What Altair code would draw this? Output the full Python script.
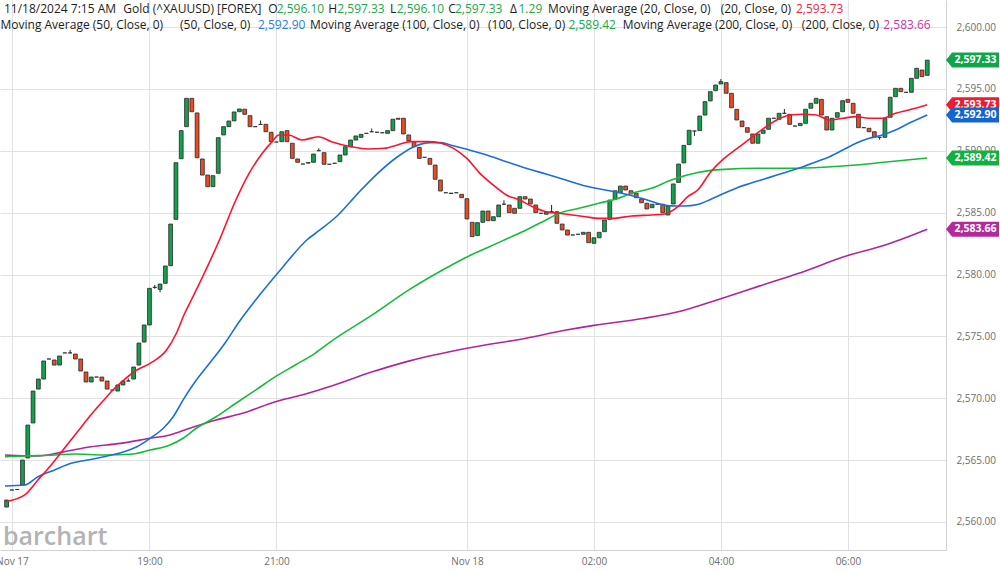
import altair as alt
import pandas as pd

# ---------------- data ----------------
first_bar = -1  # bar index of the first (partly visible) candle; bar 0 = "Nov 17"
opens = [
    2561.20, 2562.58, 2562.62, 2562.98, 2565.17, 2568.00, 2570.74, 2571.55, 2573.17, 2573.09,
    2572.68, 2573.66, 2573.66, 2573.57, 2573.17, 2572.12, 2571.31, 2571.71, 2571.71, 2571.39,
    2570.66, 2570.58, 2571.07, 2571.39, 2571.55, 2572.68, 2574.54, 2575.92, 2578.96, 2578.80,
    2579.29, 2580.71, 2584.46, 2589.36, 2591.95, 2594.24, 2593.06, 2589.34, 2588.04, 2587.10,
    2588.18, 2591.28, 2591.95, 2592.42, 2593.16, 2593.36, 2592.84, 2591.95, 2592.13, 2592.14,
    2591.50, 2590.71, 2590.74, 2591.63, 2590.61, 2589.34, 2588.93, 2589.00, 2589.07, 2590.01,
    2589.85, 2588.91, 2588.99, 2589.12, 2589.66, 2590.33, 2590.87, 2591.09, 2591.41, 2591.54,
    2591.50, 2591.46, 2591.41, 2591.63, 2592.63, 2592.63, 2591.28, 2590.74, 2590.28, 2589.47,
    2589.39, 2588.85, 2587.64, 2586.61, 2586.54, 2586.61, 2586.48, 2586.13, 2584.22, 2583.14,
    2584.22, 2585.13, 2584.35, 2584.67, 2585.68, 2585.62, 2585.35, 2585.35, 2586.29, 2586.10,
    2585.62, 2584.95, 2584.87, 2585.08, 2585.08, 2584.08, 2583.60, 2583.19, 2583.25, 2583.25,
    2583.41, 2582.52, 2582.97, 2583.46, 2584.46, 2586.08, 2586.61, 2587.15, 2586.77, 2586.56,
    2586.10, 2585.76, 2585.40, 2585.68, 2585.68, 2584.81, 2585.70, 2587.44, 2589.02, 2590.50,
    2591.60, 2591.63, 2592.89, 2594.03, 2594.86, 2595.40, 2595.51, 2594.65, 2593.35, 2592.41,
    2591.87, 2591.36, 2590.61, 2591.41, 2591.74, 2592.63, 2592.55, 2593.03, 2592.95, 2592.00,
    2592.03, 2592.22, 2593.44, 2593.84, 2594.16, 2592.76, 2591.68, 2592.71, 2593.16, 2594.16,
    2593.84, 2592.95, 2591.87, 2591.82, 2591.54, 2591.09, 2591.09, 2592.71, 2594.37, 2595.05,
    2594.73, 2594.73, 2595.86, 2596.53, 2596.10,
]
closes = [
    2561.77, 2562.58, 2562.62, 2565.00, 2567.83, 2570.58, 2571.55, 2573.01, 2573.17, 2572.68,
    2573.41, 2573.66, 2573.66, 2573.17, 2572.20, 2571.31, 2571.71, 2571.71, 2571.39, 2570.74,
    2570.66, 2571.07, 2571.39, 2571.39, 2572.52, 2574.46, 2575.92, 2578.88, 2578.96, 2579.23,
    2580.69, 2584.08, 2589.04, 2591.63, 2594.24, 2593.16, 2589.44, 2588.04, 2587.10, 2587.99,
    2591.06, 2591.95, 2592.41, 2593.14, 2593.38, 2592.95, 2591.95, 2591.95, 2592.13, 2591.54,
    2590.74, 2590.71, 2591.54, 2590.74, 2589.39, 2589.07, 2588.93, 2589.05, 2589.74, 2590.01,
    2588.91, 2588.91, 2588.99, 2589.66, 2590.33, 2590.87, 2591.20, 2591.33, 2591.41, 2591.54,
    2591.50, 2591.46, 2591.63, 2592.55, 2592.55, 2591.36, 2590.82, 2590.33, 2589.39, 2589.47,
    2588.91, 2587.70, 2586.75, 2586.61, 2586.58, 2586.61, 2586.21, 2584.49, 2583.06, 2584.19,
    2585.13, 2584.35, 2584.67, 2585.62, 2585.68, 2585.00, 2584.95, 2586.29, 2586.10, 2585.70,
    2585.00, 2584.95, 2585.08, 2585.08, 2584.14, 2583.60, 2583.19, 2583.19, 2583.25, 2583.41,
    2582.57, 2582.97, 2583.41, 2584.41, 2586.02, 2586.77, 2587.15, 2586.83, 2586.51, 2586.21,
    2585.80, 2585.30, 2585.68, 2585.68, 2585.00, 2585.54, 2587.32, 2588.93, 2590.44, 2591.66,
    2591.60, 2592.81, 2593.97, 2594.78, 2595.32, 2595.59, 2594.65, 2593.48, 2592.49, 2591.95,
    2591.50, 2590.61, 2591.36, 2591.68, 2592.63, 2592.63, 2593.03, 2593.03, 2592.14, 2592.00,
    2592.22, 2593.36, 2593.84, 2594.24, 2592.89, 2591.68, 2592.63, 2593.08, 2594.05, 2593.92,
    2593.03, 2591.87, 2591.87, 2591.54, 2591.09, 2591.09, 2592.63, 2594.33, 2595.05, 2594.78,
    2594.73, 2595.86, 2596.67, 2595.99, 2597.33,
]

wick_bars = [11, 22, 27, 28, 47, 58, 68, 93, 102, 129, 134, 146, 164]
wick_lows = [2573.66, 2571.39, 2578.85, 2578.56, 2592.13, 2590.01, 2591.54, 2585.68, 2585.08,
             2591.20, 2595.40, 2593.03, 2590.90]
wick_highs = [2573.90, 2571.60, 2579.15, 2579.23, 2592.45, 2590.20, 2591.80, 2586.00, 2585.62,
              2591.60, 2595.80, 2593.38, 2591.09]

ma20_bars = [-1.31, 2.44, 4.92, 7.43, 9.92, 12.40, 14.91, 17.40, 19.27, 21.14, 23.62, 26.13, 29.23,
             31.11, 32.68, 33.91, 39.22, 42.33, 44.83, 47.32, 49.19, 50.44, 52.31, 54.80, 57.92,
             60.41, 64.15, 67.28, 70.38, 72.89, 75.37, 78.50, 80.98, 83.47, 85.98, 88.46, 90.95,
             93.46, 95.95, 98.43, 100.94, 103.43, 105.92, 108.42, 110.91, 113.39, 117.14, 120.88,
             123.38, 125.87, 127.74, 129.61, 132.10, 134.60, 137.09, 139.58, 142.08, 144.57,
             147.06, 149.56, 152.05, 154.54, 157.05, 159.53, 162.02, 164.53, 167.01, 169.50, 173]
ma20_vals = [2561.63, 2562.18, 2563.39, 2564.60, 2565.95, 2567.29, 2568.64, 2569.86, 2570.74,
             2571.47, 2572.28, 2572.82, 2573.89, 2575.27, 2576.89, 2577.94, 2582.79, 2586.02,
             2588.18, 2589.80, 2590.74, 2591.28, 2591.28, 2590.87, 2591.14, 2590.74, 2590.33,
             2590.15, 2590.20, 2590.47, 2590.74, 2590.74, 2590.63, 2590.20, 2589.39, 2588.18,
             2587.24, 2586.43, 2586.02, 2585.48, 2585.08, 2584.95, 2584.81, 2584.67, 2584.54,
             2584.54, 2584.73, 2584.81, 2584.89, 2585.48, 2586.29, 2586.83, 2588.31, 2589.39,
             2590.20, 2591.01, 2591.82, 2592.49, 2592.89, 2592.95, 2592.89, 2592.49, 2592.63,
             2592.76, 2592.63, 2592.63, 2593.03, 2593.30, 2593.73]

ma50_bars = [-1.31, 2.44, 4.92, 8.05, 11.17, 14.27, 17.40, 20.52, 23.62, 26.13, 28.62, 30.49, 32.36,
             34.85, 37.35, 40.46, 42.96, 46.07, 51.06, 55.74, 58.22, 61.66, 65.40, 69.14, 72.89,
             75.99, 79.11, 80.98, 82.85, 85.98, 89.72, 93.46, 97.20, 100.94, 104.68, 108.42,
             112.16, 115.90, 119.64, 122.13, 124.62, 127.12, 129.61, 132.10, 134.60, 137.09,
             139.58, 142.08, 144.57, 147.06, 149.56, 152.05, 154.54, 157.05, 159.53, 162.02,
             164.53, 167.01, 169.50, 173]
ma50_vals = [2562.90, 2562.98, 2563.65, 2564.20, 2564.74, 2565.00, 2565.27, 2565.59, 2566.08,
             2566.76, 2567.57, 2568.50, 2569.86, 2571.47, 2572.82, 2574.57, 2576.18, 2577.94,
             2580.53, 2582.79, 2583.60, 2584.81, 2586.56, 2588.18, 2589.52, 2590.33, 2590.66,
             2590.66, 2590.47, 2590.12, 2589.66, 2589.12, 2588.59, 2588.12, 2587.64, 2587.15,
             2586.83, 2586.51, 2586.08, 2585.74, 2585.55, 2585.54, 2585.66, 2586.08, 2586.56,
             2587.02, 2587.37, 2587.70, 2588.04, 2588.37, 2588.71, 2589.12, 2589.52, 2590.06,
             2590.61, 2591.01, 2591.28, 2591.68, 2592.22, 2592.90]

ma100_bars = [-1.31, 2.44, 8.05, 11.79, 17.40, 22.39, 26.13, 29.87, 32.36, 34.85, 38.59, 42.33,
              46.07, 49.81, 53.55, 57.29, 60.41, 67.82, 75.17, 82.69, 86.0, 89.72, 93.46, 97.20,
              100.94, 103.43, 107.17, 110.91, 114.03, 117.14, 120.88, 124.62, 129.61, 134.60,
              140.83, 147.06, 153.30, 159.53, 165.76, 173]
ma100_vals = [2565.27, 2565.33, 2565.41, 2565.49, 2565.41, 2565.47, 2565.81, 2566.22, 2566.76,
              2567.57, 2568.50, 2569.59, 2570.66, 2571.74, 2572.68, 2573.63, 2574.62, 2576.65,
              2578.80, 2580.67, 2581.42, 2582.14, 2582.87, 2583.60, 2584.41, 2584.95, 2585.35,
              2585.76, 2586.08, 2586.56, 2586.97, 2587.64, 2588.25, 2588.50, 2588.59, 2588.59,
              2588.67, 2588.85, 2589.12, 2589.42]

ma200_bars = [-1.31, 4.92, 9.92, 14.91, 20.52, 26.13, 29.87, 33.61, 38.59, 43.58, 49.81, 54.80,
              60.41, 67.82, 75.17, 86.0, 97.16, 104.51, 110.01, 119.19, 126.54, 133.97, 141.24,
              148.58, 157.98, 164.75, 173]
ma200_vals = [2565.41, 2565.33, 2565.68, 2566.08, 2566.35, 2566.76, 2567.03, 2567.57, 2568.24,
              2568.78, 2569.72, 2570.26, 2570.99, 2572.09, 2573.02, 2574.04, 2574.85, 2575.49,
              2575.89, 2576.44, 2577.05, 2578.04, 2579.06, 2580.08, 2581.53, 2582.34, 2583.66]

tag_values = [2597.33, 2593.73, 2592.90, 2589.42, 2583.66]
tag_colors = ["#0fa54a", "#ef1a33", "#1465cf", "#10b043", "#b42a9b"]

tick_bars = [0, 26, 50, 86, 110, 134, 158]
tick_labels = ["Nov 17", "19:00", "21:00", "Nov 18", "02:00", "04:00", "06:00"]
price_ticks = [2560, 2565, 2570, 2575, 2580, 2585, 2590, 2595, 2600]

# header: (text, colour, line)
header_segments = [
    ("11/18/2024 7:15 AM", "#1e1e1e", 0), ("Gold (^XAUUSD) [FOREX]", "#1e1e1e", 0),
    ("O", "#1e1e1e", 0), ("2,596.10", "#22a846", 0), ("H", "#1e1e1e", 0), ("2,597.33", "#22a846", 0),
    ("L", "#1e1e1e", 0), ("2,596.10", "#22a846", 0), ("C", "#1e1e1e", 0), ("2,597.33", "#22a846", 0),
    ("Δ", "#1e1e1e", 0), ("1.29", "#22a846", 0), ("Moving Average (20, Close, 0)", "#1e1e1e", 0),
    ("(20, Close, 0)", "#1e1e1e", 0), ("2,593.73", "#f0283c", 0),
    ("Moving Average (50, Close, 0)", "#1e1e1e", 1), ("(50, Close, 0)", "#1e1e1e", 1),
    ("2,592.90", "#2b7de0", 1), ("Moving Average (100, Close, 0)", "#1e1e1e", 1),
    ("(100, Close, 0)", "#1e1e1e", 1), ("2,589.42", "#22a846", 1),
    ("Moving Average (200, Close, 0)", "#1e1e1e", 1), ("(200, Close, 0)", "#1e1e1e", 1),
    ("2,583.66", "#c23aa5", 1),
]
# layout (pixels) for the header pieces
header_x = [4, 123.3, 268.3, 276.7, 328.3, 337.3, 390, 396.7, 448.3, 455, 510, 518.5, 548, 720.7, 796,
            0.5, 180, 258, 310, 488, 568.5, 622.7, 801.7, 883.3]
header_line_y = [9, 25]

# ---------------- layout ----------------
W, H = 946, 550
X_DOMAIN = [-1.305, 175.6]
Y_DOMAIN = [2557.73, 2602.19]
FONT = "Open Sans"

xs = alt.Scale(domain=X_DOMAIN, nice=False, zero=False)
ys = alt.Scale(domain=Y_DOMAIN, nice=False, zero=False)

label_expr = " : ".join(f"datum.value == {b} ? '{t}'" for b, t in zip(tick_bars, tick_labels)) + " : ''"
x_axis = alt.Axis(values=tick_bars, labelExpr=label_expr, grid=True, ticks=False, domain=True,
                  labelPadding=6, labelFlush=False, labelOverlap=False, labelBound=False, title=None)
y_axis = alt.Axis(orient="right", values=price_ticks, format=",.2f", grid=True, ticks=False,
                  domain=True, labelPadding=10, labelOverlap=False, title=None)

X = alt.X("i:Q", scale=xs, axis=x_axis)
Y = alt.Y("v:Q", scale=ys, axis=y_axis)

bars = list(range(first_bar, first_bar + len(opens)))
cdf = pd.DataFrame({"i": bars, "v": opens, "v2": closes})
cdf["d"] = ["up" if c > o else ("down" if c < o else "flat") for o, c in zip(opens, closes)]
wdf = pd.DataFrame({"i": wick_bars, "v": wick_lows, "v2": wick_highs})

layers = []
layers.append(alt.Chart(wdf).mark_rule(color="#262626", strokeWidth=1).encode(x=X, y=Y, y2="v2:Q"))
layers.append(
    alt.Chart(cdf).mark_bar(size=3.8, stroke="#262626", strokeWidth=0.8).encode(
        x=X, y=Y, y2="v2:Q",
        color=alt.Color("d:N", scale=alt.Scale(domain=["up", "down", "flat"],
                                               range=["#14a14b", "#ea4a24", "#262626"]), legend=None),
    )
)

for b, v, col in [(ma200_bars, ma200_vals, "#b0259d"), (ma100_bars, ma100_vals, "#16bb3a"),
                  (ma50_bars, ma50_vals, "#1a6fdb"), (ma20_bars, ma20_vals, "#ff1230")]:
    layers.append(
        alt.Chart(pd.DataFrame({"i": b, "v": v})).mark_line(
            color=col, strokeWidth=1.6, interpolate="monotone", clip=True
        ).encode(x=X, y=Y)
    )

TAG_PATH = "M-1,0L-0.77,-0.283L1,-0.283L1,0.283L-0.77,0.283Z"
for k in range(len(tag_values)):
    tdf = pd.DataFrame({"v": [tag_values[k]], "t": [f"{tag_values[k]:,.2f}"]})
    layers.append(alt.Chart(tdf).mark_point(shape=TAG_PATH, size=53 * 53, filled=True,
                                            color=tag_colors[k], opacity=1, strokeWidth=0)
                  .encode(x=alt.value(972.5), y=Y))
    layers.append(alt.Chart(tdf).mark_text(color="white", font=FONT, fontSize=10.5, fontWeight="bold",
                                           align="center", baseline="middle")
                  .encode(x=alt.value(975.5), y=Y, text="t:N"))

for (txt, col, ln), hx in zip(header_segments, header_x):
    layers.append(
        alt.Chart(pd.DataFrame({"t": [txt]})).mark_text(
            align="left", baseline="middle", font=FONT, fontSize=12, color=col
        ).encode(x=alt.value(hx), y=alt.value(header_line_y[ln]), text="t:N")
    )

layers.append(
    alt.Chart(pd.DataFrame({"t": ["barchart"]})).mark_text(
        align="left", baseline="alphabetic", font=FONT, fontSize=25, fontWeight=600, color="#b3b3b3"
    ).encode(x=alt.value(3), y=alt.value(545), text="t:N")
)

chart = (
    alt.layer(*layers)
    .properties(width=W, height=H, autosize=alt.AutoSizeParams(type="none"),
                padding={"left": 0, "top": 0, "right": 54, "bottom": 22}, background="white")
    .configure_view(stroke=None)
    .configure_axis(gridColor="#e1e1e1", gridWidth=1, domainColor="#d2d2d2", labelFont=FONT,
                    labelFontSize=10, labelColor="#6e6e6e")
)

chart.save("out.html", embed_options={"renderer": "svg", "actions": False})
